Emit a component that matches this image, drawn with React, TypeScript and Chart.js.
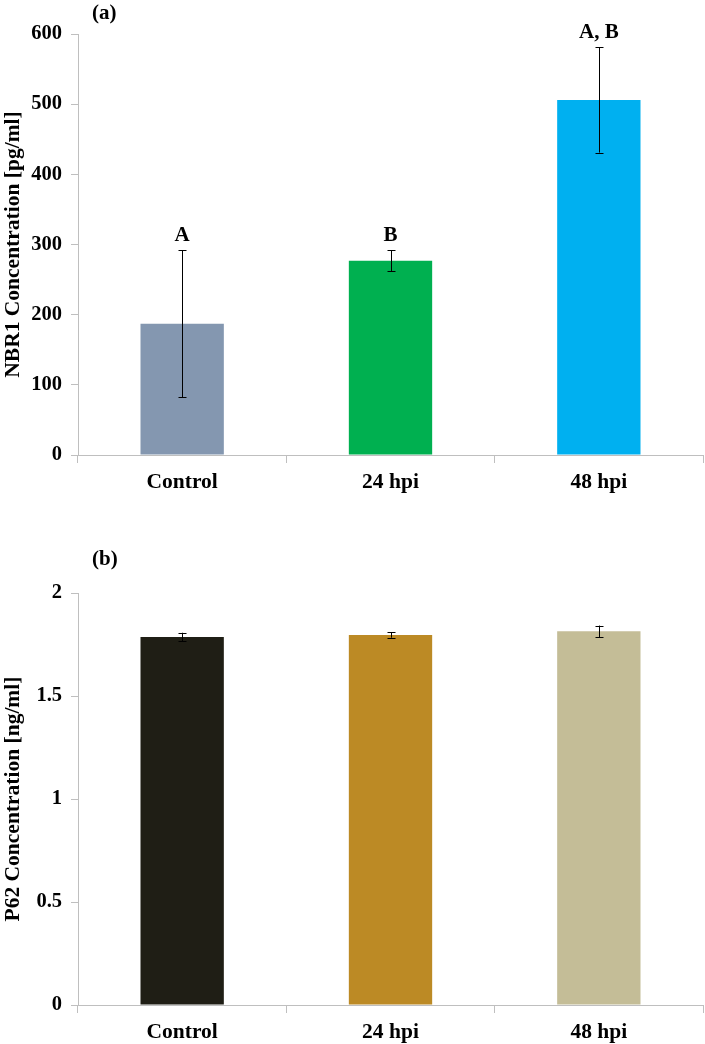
import React, { useEffect, useRef } from "react";
import { Chart, registerables } from "chart.js";

Chart.register(...registerables);

const categories = ["Control", "24 hpi", "48 hpi"];

const nbr1Values = [187, 277, 506];
const nbr1Errors = [105, 15, 75];
const nbr1Letters = ["A", "B", "A, B"];
const nbr1Colors = ["#8497B0", "#00B050", "#00B0F0"];
const nbr1Ticks = [0, 100, 200, 300, 400, 500, 600];

const p62Values = [1.787, 1.796, 1.814];
const p62Errors = [0.02, 0.013, 0.028];
const p62Letters = ["", "", ""];
const p62Colors = ["#1F1E15", "#BC8A25", "#C4BD97"];
const p62Ticks = [0, 0.5, 1, 1.5, 2];

const FONT = "'Liberation Serif', 'Times New Roman', serif";
const AXIS_GRAY = "#BFBFBF";

type PanelProps = {
  values: number[];
  errors: number[];
  letters: string[];
  colors: string[];
  ticks: number[];
  yMax: number;
  yTitle: string;
  height: number;
  padTop: number;
  xAxisHeight: number;
};

function Panel(props: PanelProps) {
  const ref = useRef<HTMLCanvasElement | null>(null);
  useEffect(() => {
    if (!ref.current) return;
    const { values, errors, letters, colors, ticks, yMax, yTitle, padTop, xAxisHeight } = props;
    const errPlugin = {
      id: "errbars",
      afterDatasetsDraw(chart: any) {
        const ctx = chart.ctx;
        const meta = chart.getDatasetMeta(0);
        const y = chart.scales.y;
        ctx.save();
        ctx.strokeStyle = "#000";
        ctx.lineWidth = 1;
        meta.data.forEach((bar: any, i: number) => {
          const x = Math.round(bar.x) + 0.5;
          const top = y.getPixelForValue(values[i] + errors[i]);
          const bot = y.getPixelForValue(values[i] - errors[i]);
          ctx.beginPath();
          ctx.moveTo(x, top);
          ctx.lineTo(x, bot);
          ctx.moveTo(x - 4, Math.round(top) + 0.5);
          ctx.lineTo(x + 4, Math.round(top) + 0.5);
          ctx.moveTo(x - 4, Math.round(bot) + 0.5);
          ctx.lineTo(x + 4, Math.round(bot) + 0.5);
          ctx.stroke();
          if (letters[i]) {
            ctx.fillStyle = "#000";
            ctx.font = `bold 21px ${FONT}`;
            ctx.textAlign = "center";
            ctx.textBaseline = "middle";
            ctx.fillText(letters[i], bar.x, top - 15);
          }
        });
        ctx.restore();
      },
    };
    const chart = new Chart(ref.current, {
      type: "bar",
      data: {
        labels: categories,
        datasets: [
          {
            data: values,
            backgroundColor: colors,
            borderWidth: 0,
            categoryPercentage: 1,
            barPercentage: 0.4,
          },
        ],
      },
      options: {
        animation: false,
        responsive: false,
        events: [],
        layout: { padding: { top: padTop, right: 2, left: 0, bottom: 0 } },
        plugins: { legend: { display: false }, tooltip: { enabled: false } },
        scales: {
          x: {
            offset: true,
            grid: {
              offset: true,
              drawOnChartArea: false,
              drawTicks: true,
              tickLength: 8,
              color: AXIS_GRAY,
            },
            border: { color: AXIS_GRAY, width: 1 },
            ticks: {
              color: "#000",
              padding: 7,
              font: { family: FONT, size: 21.5, weight: "bold" },
              maxRotation: 0,
            },
            afterFit(scale: any) {
              scale.height = xAxisHeight;
            },
          },
          y: {
            min: 0,
            max: yMax,
            afterBuildTicks(scale: any) {
              scale.ticks = ticks.map((v) => ({ value: v }));
            },
            grid: {
              drawOnChartArea: false,
              drawTicks: true,
              tickLength: 7,
              color: AXIS_GRAY,
            },
            border: { color: AXIS_GRAY, width: 1 },
            ticks: {
              color: "#000",
              padding: 9,
              font: { family: FONT, size: 20.5, weight: "bold" },
              callback: (v: any) => String(v),
            },
            title: {
              display: true,
              text: yTitle,
              color: "#000",
              font: { family: FONT, size: 21.5, weight: "bold" },
              padding: { top: 1, bottom: 0 },
            },
            afterFit(scale: any) {
              scale.width = 78;
            },
          },
        },
      },
      plugins: [errPlugin],
    } as any);
    return () => chart.destroy();
  }, []);
  return <canvas ref={ref} width={705} height={props.height} style={{ display: "block" }} />;
}

export default function App() {
  const labelStyle: React.CSSProperties = {
    position: "absolute",
    left: 92,
    fontFamily: FONT,
    fontWeight: "bold",
    fontSize: 21,
    lineHeight: "24px",
  };
  return (
    <div style={{ position: "fixed", left: 0, top: 0, width: 705, height: 1044, background: "#fff" }}>
      <div style={{ position: "absolute", left: 0, top: 0 }}>
        <Panel
          values={nbr1Values}
          errors={nbr1Errors}
          letters={nbr1Letters}
          colors={nbr1Colors}
          ticks={nbr1Ticks}
          yMax={600}
          yTitle="NBR1 Concentration [pg/ml]"
          height={510}
          padTop={34}
          xAxisHeight={55}
        />
      </div>
      <div style={{ ...labelStyle, top: 0 }}>(a)</div>
      <div style={{ position: "absolute", left: 0, top: 520 }}>
        <Panel
          values={p62Values}
          errors={p62Errors}
          letters={p62Letters}
          colors={p62Colors}
          ticks={p62Ticks}
          yMax={2}
          yTitle="P62 Concentration [ng/ml]"
          height={524}
          padTop={73}
          xAxisHeight={39}
        />
      </div>
      <div style={{ ...labelStyle, top: 546 }}>(b)</div>
    </div>
  );
}
